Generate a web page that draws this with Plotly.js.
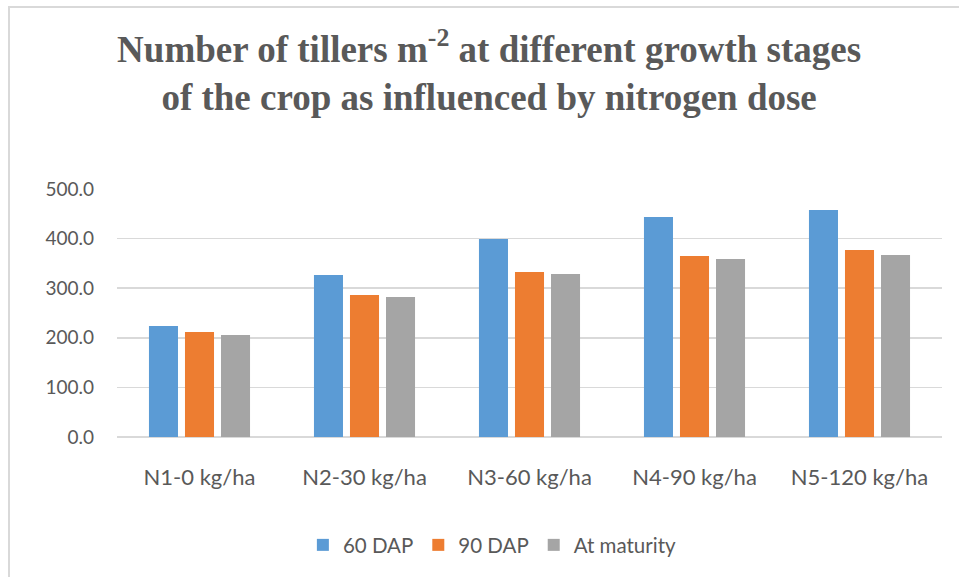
<!DOCTYPE html>
<html>
<head>
<meta charset="utf-8">
<script src="https://cdn.plot.ly/plotly-3.0.1.min.js"></script>
<style>
html,body{margin:0;padding:0;background:#fff;}
#wrap{position:relative;width:959px;height:577px;overflow:hidden;}
#frame{position:absolute;left:8px;top:6px;right:-5px;bottom:-5px;border-left:2px solid #d9d9d9;border-top:2px solid #d9d9d9;pointer-events:none;}
#chart{position:absolute;left:0;top:0;width:959px;height:577px;}
</style>
</head>
<body>
<div id="wrap"><div id="chart"></div><div id="frame"></div></div>
<script>
const categories = ["N1-0 kg/ha","N2-30 kg/ha","N3-60 kg/ha","N4-90 kg/ha","N5-120 kg/ha"];
const seriesNames = ["60 DAP","90 DAP","At maturity"];
const dap60 = [223.6, 326.7, 399.4, 443.8, 457.9];
const dap90 = [211.5, 286.3, 332.7, 365.0, 377.0];
const maturity = [205.5, 282.2, 328.7, 359.0, 367.0];
const yTicks = [0,100,200,300,400,500];
const yTickLabels = ["0.0","100.0","200.0","300.0","400.0","500.0"];
const colors = ["#5b9bd5","#ed7d31","#a5a5a5"];

const seriesData = [dap60, dap90, maturity];
const data = seriesData.map((vals,i)=>({
  type:'bar', x:categories, y:vals, name:seriesNames[i],
  marker:{color:colors[i]}, hoverinfo:'skip'
}));

const sansFont = 'Lato, Carlito, Open Sans, sans-serif';
const layout = {
  width:959, height:577,
  margin:{l:117, r:17, t:189, b:140},
  paper_bgcolor:'#fff', plot_bgcolor:'#fff',
  barmode:'group', bargap:0.345, bargroupgap:0.194,
  title:{
    text:'<b>Number of tillers m<sup>-2</sup> at different growth stages<br>of the crop as influenced by nitrogen dose</b>',
    font:{family:'Liberation Serif, Times New Roman, serif', size:37, color:'#595959'},
    x:0.51, xanchor:'center', yref:'container', y:0.893, yanchor:'top'
  },
  xaxis:{
    tickfont:{family:sansFont, size:22, color:'#595959'},
    showgrid:false, showline:false, ticks:'', zeroline:false, fixedrange:true,
    ticklabelstandoff:25
  },
  yaxis:{
    range:[0,500], tickvals:yTicks, ticktext:yTickLabels,
    tickfont:{family:sansFont, size:19, color:'#595959'},
    showgrid:true, gridcolor:'#d9d9d9', gridwidth:1.5,
    zeroline:true, zerolinecolor:'#d9d9d9', zerolinewidth:2,
    showline:false, ticks:'', ticklabelstandoff:22, fixedrange:true
  },
  legend:{
    orientation:'h', x:0.455, xanchor:'center', y:-0.355, yanchor:'top',
    font:{family:sansFont, size:20.5, color:'#595959'},
    itemwidth:30, traceorder:'normal'
  },
  showlegend:true
};
Plotly.newPlot('chart', data, layout, {displayModeBar:false, staticPlot:true});
</script>
</body>
</html>
